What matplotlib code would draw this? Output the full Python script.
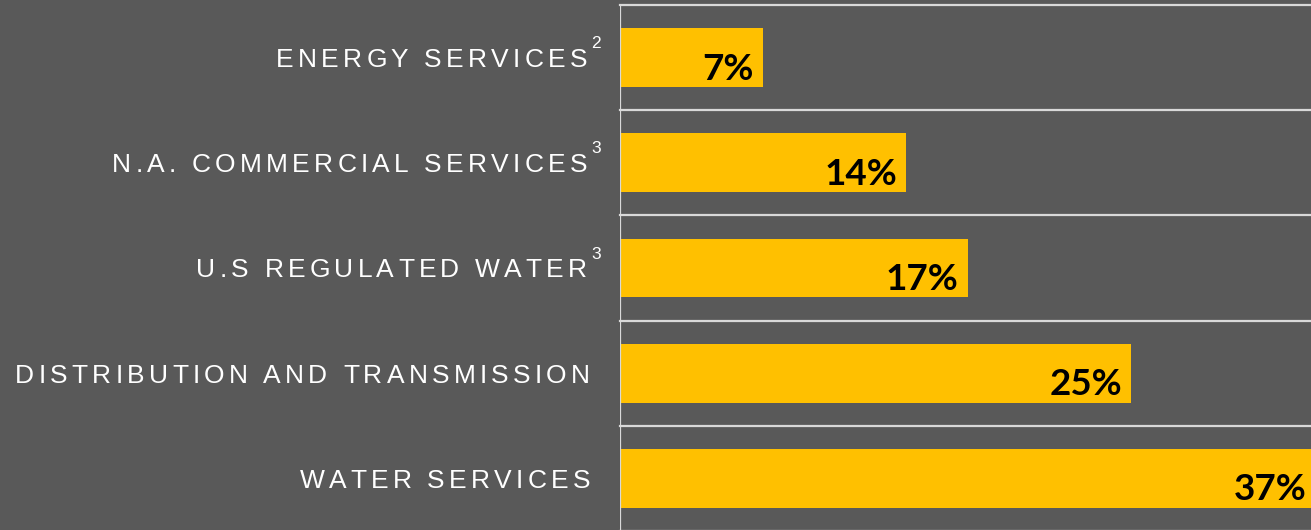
import matplotlib
matplotlib.use("Agg")
import matplotlib.pyplot as plt
from matplotlib.font_manager import FontProperties, findfont
from matplotlib.ft2font import FT2Font
from matplotlib.transforms import IdentityTransform

categories = ["ENERGY SERVICES", "N.A. COMMERCIAL SERVICES", "U.S REGULATED WATER",
              "DISTRIBUTION AND TRANSMISSION", "WATER SERVICES"]
footnotes = ["2", "3", "3", "", ""]
values = [7, 14, 17, 25, 37]
value_labels = ["7%", "14%", "17%", "25%", "37%"]

BG = "#595959"
BAR = "#FFC000"
LINE = "#D9D9D9"
DPI = 100
W, H = 1311, 530

fig = plt.figure(figsize=(W / DPI, H / DPI), dpi=DPI, facecolor=BG)
ax = fig.add_axes([620 / W, -1 / H, 691 / W, 526 / H])
ax.set_facecolor(BG)
n = len(categories)
ypos = list(range(n))
ax.barh(ypos, values, height=0.56, color=BAR, zorder=2)
xmax = 33.8
ax.set_xlim(0, xmax)
ax.set_ylim(n - 0.5, -0.5)
for i in range(n + 1):
    ax.axhline(i - 0.5, color=LINE, lw=1.6, zorder=3, clip_on=False)
ax.axvline(0, color=LINE, lw=1.6, zorder=4)
for s in ax.spines.values():
    s.set_visible(False)
ax.set_xticks([])
ax.set_yticks([])

# letter-spaced category labels
LAB_PT = 19
lab_fp = FontProperties(family="Liberation Sans", size=LAB_PT)
font_path = findfont(lab_fp)
ft = FT2Font(font_path)
ft.set_size(LAB_PT, DPI)


def advances(s):
    out = []
    for ch in s:
        g = ft.load_char(ord(ch))
        out.append(g.linearHoriAdvance / 65536.0)
    return out


spacing = 4.2
cap_h = LAB_PT * DPI / 72 * 0.716
ident = IdentityTransform()
sup_fp = FontProperties(family="Liberation Sans", size=12.5)
val_fp = FontProperties(family="Lato", weight="bold", size=26.5)

for i, (cat, fn, v, vl) in enumerate(zip(categories, footnotes, values, value_labels)):
    _, yc = ax.transData.transform((0, i))
    xend = 587 if fn else 590
    adv = advances(cat)
    total = sum(adv) + spacing * (len(cat) - 1)
    x = xend - total
    base = yc - cap_h / 2
    for ch, a in zip(cat, adv):
        fig.text(x, base, ch, fontproperties=lab_fp, color="white",
                 ha="left", va="baseline", transform=ident)
        x += a + spacing
    if fn:
        fig.text(xend + 4, base + cap_h, fn, fontproperties=sup_fp, color="white",
                 ha="left", va="baseline", transform=ident)
    # value label
    xe, _ = ax.transData.transform((min(v, xmax), i))
    xr = xe - 9 if v <= xmax else W - 4
    fig.text(xr, yc - 22, vl, fontproperties=val_fp, color="black",
             ha="right", va="baseline", transform=ident, zorder=5)

fig.savefig("out.png", dpi=DPI, facecolor=BG)
